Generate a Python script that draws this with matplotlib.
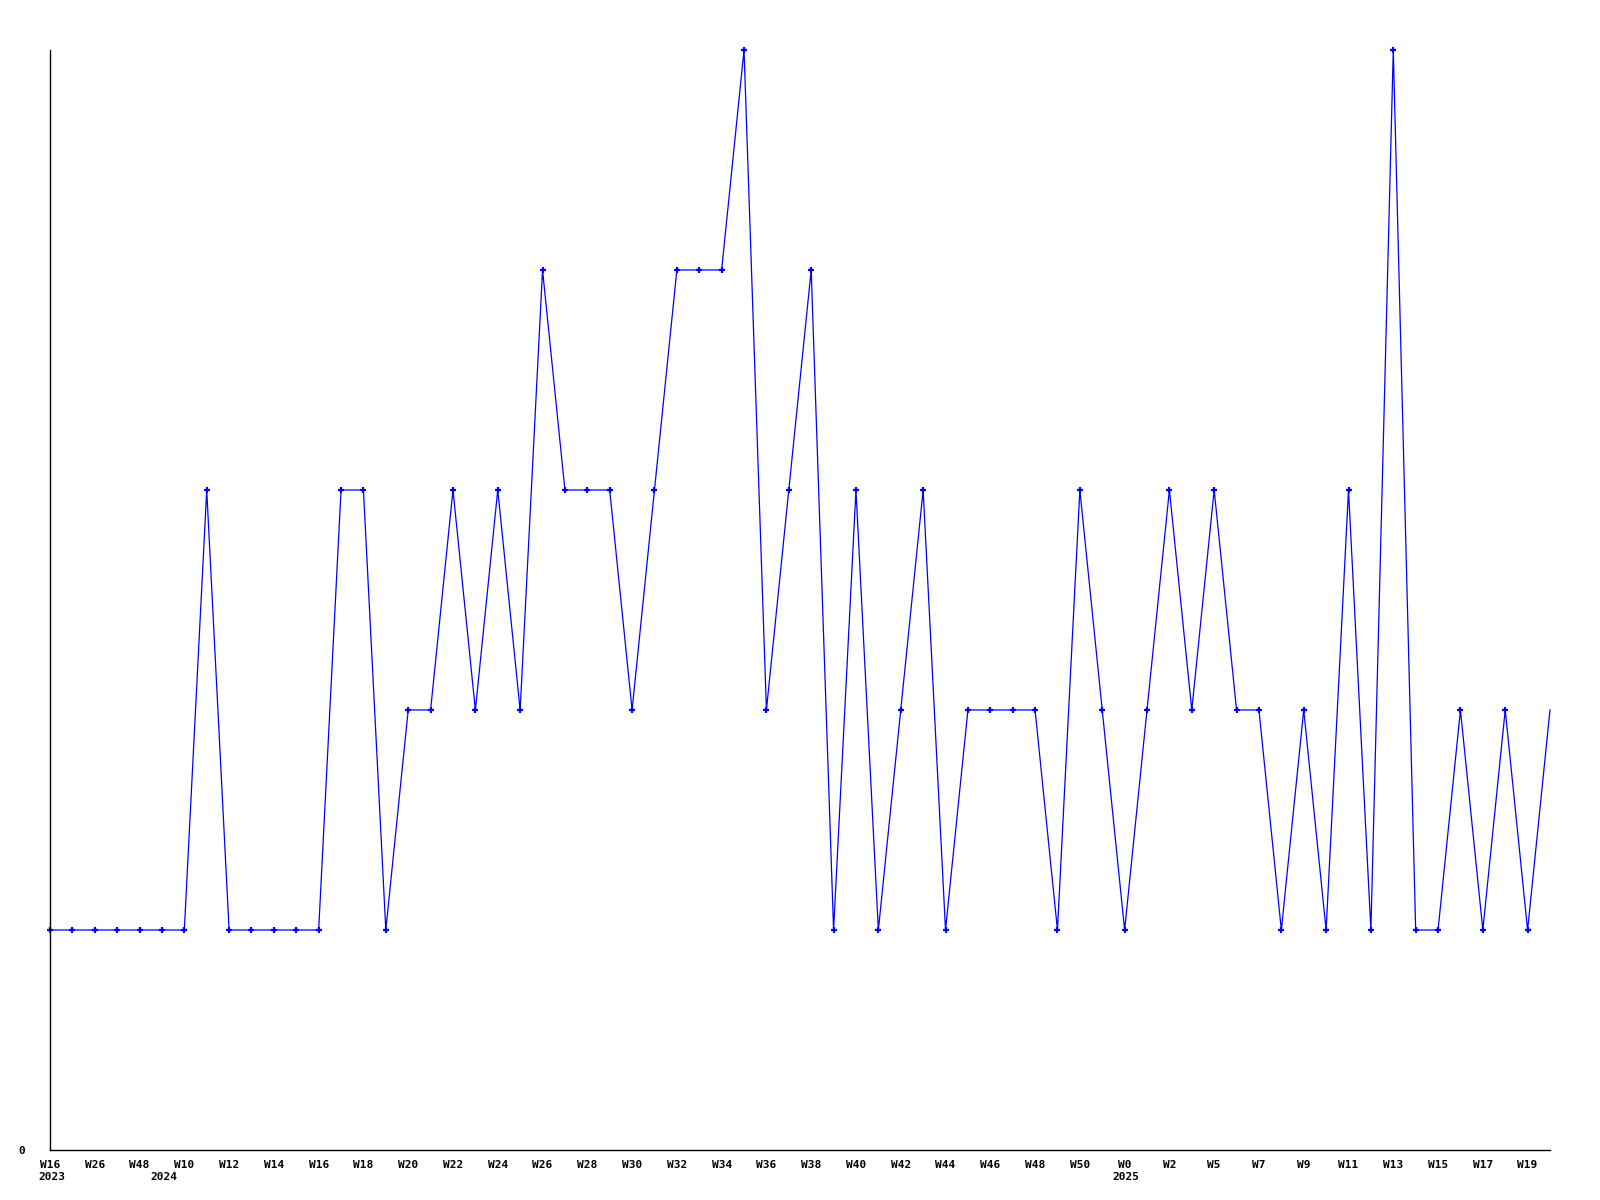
import numpy as np
import matplotlib
matplotlib.use("Agg")
import matplotlib.pyplot as plt

# weekly values, one per sample point
values = [1, 1, 1, 1, 1, 1, 1, 3, 1, 1,
          1, 1, 1, 3, 3, 1, 2, 2, 3, 2,
          3, 2, 4, 3, 3, 3, 2, 3, 4, 4,
          4, 5, 2, 3, 4, 1, 3, 1, 2, 3,
          1, 2, 2, 2, 2, 1, 3, 2, 1, 2,
          3, 2, 3, 2, 2, 1, 2, 1, 3, 1,
          5, 1, 1, 2, 1, 2, 1, 2]

# labels shown on every second point
tick_labels = ["W16", "W26", "W48", "W10", "W12", "W14", "W16", "W18", "W20",
               "W22", "W24", "W26", "W28", "W30", "W32", "W34", "W36", "W38",
               "W40", "W42", "W44", "W46", "W48", "W50", "W0", "W2", "W5",
               "W7", "W9", "W11", "W13", "W15", "W17", "W19"]

# year markers: (point index, year)
years = [(0, "2023"), (5, "2024"), (48, "2025")]

x = np.arange(len(values))

fig = plt.figure(figsize=(16, 12), dpi=100)
ax = fig.add_axes([50/1600, 50/1200, 1500/1600, 1100/1200])

ax.plot(x, values, color="#0000ff", lw=0.9, marker="+", ms=5, mew=1.6,
        markevery=list(range(len(values) - 1)), clip_on=False)

ax.set_xlim(0, len(values) - 1)
ax.set_ylim(0, 5)

for s in ["top", "right"]:
    ax.spines[s].set_visible(False)
for s in ["left", "bottom"]:
    ax.spines[s].set_linewidth(1.0)
    ax.spines[s].set_color("black")

font = dict(family="DejaVu Sans Mono", weight="bold", size=8)

ax.set_xticks(x[::2])
ax.set_xticklabels(tick_labels, **font)
ax.tick_params(axis="x", length=0, pad=7)

ax.set_yticks([0])
ax.set_yticklabels(["0"], **font)
ax.tick_params(axis="y", length=0, pad=18)

for idx, yr in years:
    ax.annotate(yr, xy=(idx, 0), xycoords=("data", "axes fraction"),
                xytext=(-12, -22), textcoords="offset pixels",
                ha="left", va="top", **font)

fig.savefig("out.png", dpi=100)
